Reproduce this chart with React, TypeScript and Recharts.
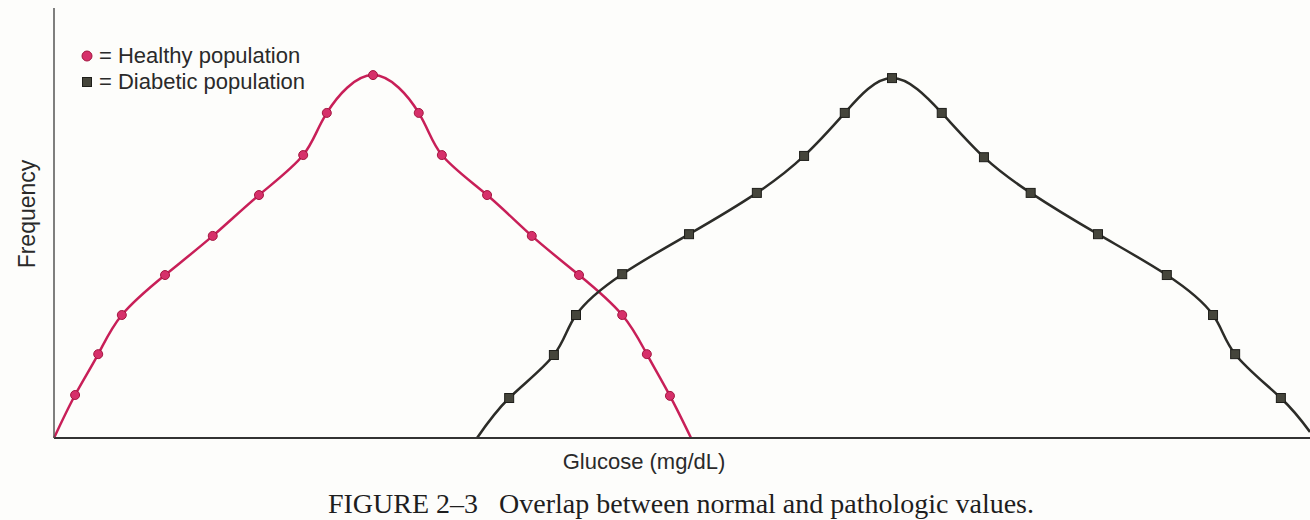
import React from 'react';
import { LineChart, Line, XAxis, YAxis } from 'recharts';

// glucose (mg/dL) and relative frequency
const healthyGlucose = [40, 44.2, 48.8, 53.5, 62.1, 71.6, 80.8, 89.6, 94.3, 103.5, 112.6, 117.2, 126.2, 135.1, 144.5, 153.1, 158, 162.6, 166.8];
const healthyFreq = [0, 10, 19.5, 28.6, 37.9, 47, 56.5, 65.8, 75.6, 84.4, 75.6, 65.8, 56.5, 47, 37.9, 28.6, 19.5, 9.8, 0];

const diabeticGlucose = [124.2, 130.6, 139.5, 143.9, 153.1, 166.4, 179.9, 189.3, 197.4, 206.8, 216.7, 225.1, 234.4, 247.8, 261.5, 270.7, 275.1, 284.2, 290];
const diabeticFreq = [0, 9.3, 19.3, 28.6, 38.1, 47.4, 57, 65.6, 75.6, 83.7, 75.6, 65.3, 57, 47.4, 37.9, 28.6, 19.5, 9.3, 1.4];

const healthy = healthyGlucose.map((x, i) => ({ x, y: healthyFreq[i] }));
const diabetic = diabeticGlucose.map((x, i) => ({ x, y: diabeticFreq[i] }));

const RED = '#c81f58';
const DARK = '#2c2c28';
const FONT = '"Liberation Sans", Arial, Helvetica, sans-serif';

const CircleDot = (props: any) => {
    const { cx, cy, index } = props;
    if (index === 0 || index === healthy.length - 1) return <g key={`h${index}`} />;
    return <circle key={`h${index}`} cx={cx} cy={cy} r={4.5} fill="#d6306a" stroke="#a3163f" strokeWidth={1} />;
};

const SquareDot = (props: any) => {
    const { cx, cy, index } = props;
    if (index === 0 || index === diabetic.length - 1) return <g key={`d${index}`} />;
    return <rect key={`d${index}`} x={cx - 4.5} y={cy - 4.5} width={9} height={9} fill="#45453b" stroke="#1e1e1a" strokeWidth={1} />;
};

const LegendBox = () => (
    <div style={{ position: 'absolute', left: 81, top: 43, fontFamily: FONT, fontSize: 22, color: '#2a2a2a', lineHeight: '26px' }}>
        <div style={{ display: 'flex', alignItems: 'center' }}>
            <svg width={12} height={12} style={{ marginRight: 6 }}>
                <circle cx={6} cy={6} r={5} fill="#d6306a" stroke="#a3163f" />
            </svg>
            <span>= Healthy population</span>
        </div>
        <div style={{ display: 'flex', alignItems: 'center' }}>
            <svg width={12} height={12} style={{ marginRight: 6 }}>
                <rect x={1.5} y={1.5} width={9} height={9} fill="#45453b" stroke="#1e1e1a" />
            </svg>
            <span>= Diabetic population</span>
        </div>
    </div>
);

export default function App() {
    return (
        <div style={{ position: 'absolute', left: 0, top: 0, width: 1310, height: 520, background: '#fdfdfb', overflow: 'hidden' }}>
            <LineChart width={1310} height={440} margin={{ top: 8, right: 0, bottom: 1, left: 53 }}>
                <XAxis
                    type="number"
                    dataKey="x"
                    domain={[40, 290]}
                    height={1}
                    tick={false}
                    tickLine={false}
                    axisLine={{ stroke: '#333', strokeWidth: 2 }}
                    allowDuplicatedCategory={false}
                />
                <YAxis
                    type="number"
                    dataKey="y"
                    domain={[0, 100]}
                    width={1}
                    tick={false}
                    tickLine={false}
                    axisLine={{ stroke: '#555', strokeWidth: 1.5 }}
                />
                <Line
                    data={healthy}
                    dataKey="y"
                    name="Healthy population"
                    type="natural"
                    stroke={RED}
                    strokeWidth={2.5}
                    dot={CircleDot}
                    activeDot={false}
                    isAnimationActive={false}
                />
                <Line
                    data={diabetic}
                    dataKey="y"
                    name="Diabetic population"
                    type="natural"
                    stroke={DARK}
                    strokeWidth={2.5}
                    dot={SquareDot}
                    activeDot={false}
                    isAnimationActive={false}
                />
            </LineChart>
            <LegendBox />
            <div style={{ position: 'absolute', left: 27, top: 214, transform: 'translate(-50%, -50%) rotate(-90deg)', fontFamily: FONT, fontSize: 23, color: '#2a2a2a', whiteSpace: 'nowrap' }}>
                Frequency
            </div>
            <div style={{ position: 'absolute', left: 644, top: 462, transform: 'translate(-50%, -50%)', fontFamily: FONT, fontSize: 22, color: '#2a2a2a', whiteSpace: 'nowrap' }}>
                Glucose (mg/dL)
            </div>
            <div style={{ position: 'absolute', left: 681, top: 504, transform: 'translate(-50%, -50%)', fontFamily: '"Liberation Serif", "Times New Roman", serif', fontSize: 28, color: '#1e1e1e', whiteSpace: 'pre' }}>
                {'FIGURE 2\u20133   Overlap between normal and pathologic values.'}
            </div>
        </div>
    );
}
